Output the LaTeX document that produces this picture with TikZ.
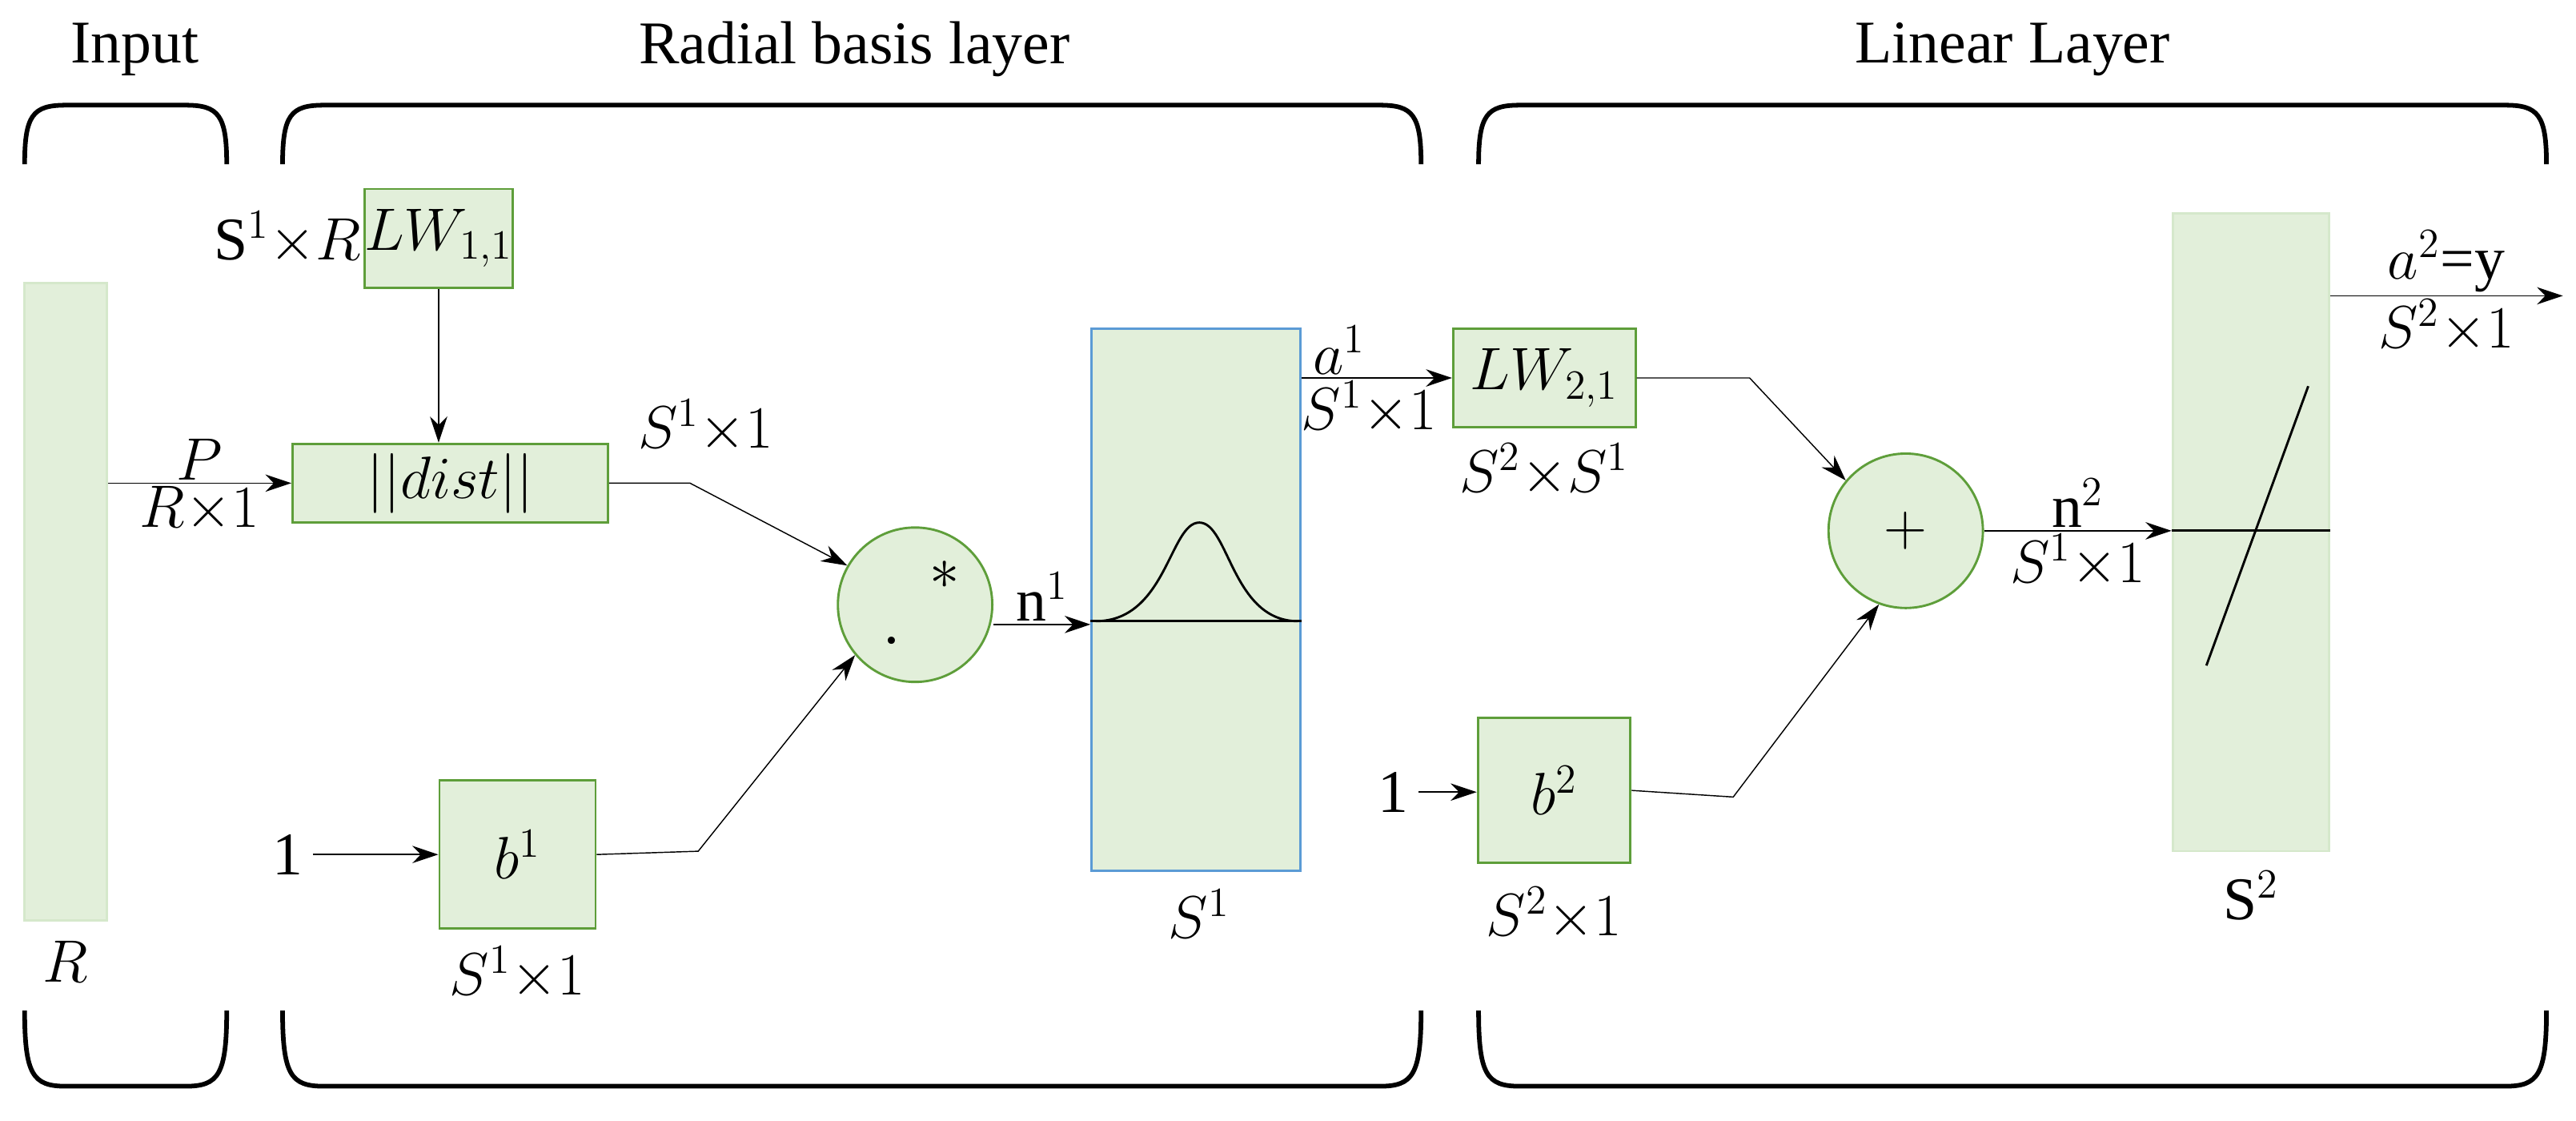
\documentclass[tikz,border=0pt]{standalone}
\usepackage{fontspec}
\setmainfont{Liberation Serif}
\usetikzlibrary{arrows.meta}
\definecolor{boxfill}{HTML}{E2EFDA}
\definecolor{boxline}{HTML}{5E9E3A}
\definecolor{barline}{HTML}{D5E8CB}
\definecolor{s1line}{HTML}{5B9BD5}
\tikzset{
  blk/.style={draw=boxline,fill=boxfill,line width=0.8pt,inner sep=0pt},
  bar/.style={draw=barline,fill=boxfill,line width=0.8pt,inner sep=0pt},
  op/.style={circle,draw=boxline,fill=boxfill,line width=0.8pt,minimum size=1.88cm,inner sep=0pt},
  lbl/.style={inner sep=1pt},
  brk/.style={line width=1.6pt},
}
\begin{document}
\begin{tikzpicture}[x=0.02cm,y=-0.02cm,>={Stealth[length=9pt,width=6pt]},font=\fontsize{21}{25}\selectfont]
        \useasboundingbox (0,0) rectangle (1568,682);

        % brackets
        \foreach \a/\b in {15/138,172/865,900/1550}
        {
            \draw[brk] (\a,100) .. controls (\a,70) and (\a+5,64) .. (\a+25,64) -- (\b-25,64) .. controls (\b-5,64) and (\b,70) .. (\b,100);
            \draw[brk] (\a,615) .. controls (\a,654) and (\a+5,661) .. (\a+25,661) -- (\b-25,661) .. controls (\b-5,661) and (\b,654) .. (\b,615);
        }
        \node at (82,30) {Input};
        \node at (520,30) {Radial basis layer};
        \node at (1225,30) {Linear Layer};

        % blocks
        \node[bar,minimum width=1cm,minimum height=7.76cm] (inp) at (40,366) {};
        \node at (40,585) {$R$};
        \node[blk,minimum width=1.8cm,minimum height=1.2cm] (lw1) at (267,145) {$LW_{1,1}$};
        \node[lbl,left] at (222,145) {S$^1{\times}R$};
        \node[blk,minimum width=3.84cm,minimum height=0.96cm] (dist) at (274,294) {$||dist||$};
        \node[op] (mul) at (557,368) {};
        \node at (575,350) {\huge$*$};
        \node at (543,390) {.};
        \node[blk,minimum width=1.9cm,minimum height=1.8cm] (b1) at (315,520) {$b^1$};
        \node at (315,592) {$S^1{\times}1$};
        \node (one1) at (175,520) {1};
        \node[blk,draw=s1line,minimum width=2.54cm,minimum height=6.6cm] (s1) at (728,365) {};
        \node at (730,556) {$S^1$};
        \draw[line width=0.8pt] (s1.west |- 0,378) -- (s1.east |- 0,378);
        \draw[line width=0.8pt] (667,378) .. controls (710,378) and (712,318) .. (730,318) .. controls (748,318) and (750,378) .. (790,378);
        \node[blk,minimum width=2.22cm,minimum height=1.2cm] (lw2) at (940,230) {$LW_{2,1}$};
        \node at (940,286) {$S^2{\times}S^1$};
        \node[op] (add) at (1160,323) {\huge$+$};
        \node[blk,minimum width=1.86cm,minimum height=1.76cm] (b2) at (946,481) {$b^2$};
        \node at (946,556) {$S^2{\times}1$};
        \node (one2) at (848,482) {1};
        \node[bar,minimum width=1.9cm,minimum height=7.76cm] (s2) at (1370,324) {};
        \node at (1370,545) {S$^2$};
        \draw[line width=0.8pt] (s2.west |- 0,323) -- (s2.east |- 0,323);
        \draw[line width=0.8pt] (1343,405) -- (1405,235);
        \coordinate (out) at (1560,180);

        % connectors
        \draw[->] (inp.east |- dist) -- node[above,lbl]{$P$} node[below,lbl]{$R{\times}1$} (dist.west);
        \draw[->] (lw1.south) -- (lw1.south |- dist.north);
        \draw[->] (dist.east) -- (420,294) -- node[pos=0.1,above=12pt,lbl]{$S^1{\times}1$} (mul.150);
        \draw[->] (b1.east) -- (425,518) -- (mul.220);
        \draw[->] (one1.east) -- (b1.west);
        \draw[->] (mul.east |- 0,380) -- node[above,lbl]{n$^1$} (s1.west |- 0,380);
        \draw[->] (s1.east |- lw2) -- node[pos=0.25,above,lbl]{$a^1$} node[pos=0.45,below,lbl]{$S^1{\times}1$} (lw2.west);
        \draw[->] (lw2.east) -- (1065,230) -- (add.140);
        \draw[->] (b2.east) -- (1055,485) -- (add.250);
        \draw[->] (one2.east) -- (b2.west |- one2);
        \draw[->] (add.east) -- node[above,lbl]{n$^2$} node[below,lbl]{$S^1{\times}1$} (s2.west |- add);
        \draw[->] (s2.east |- out) -- node[pos=0.5,above,lbl]{$a^2$=y} node[pos=0.5,below,lbl]{$S^2{\times}1$} (out);
    \end{tikzpicture}
\end{document}
